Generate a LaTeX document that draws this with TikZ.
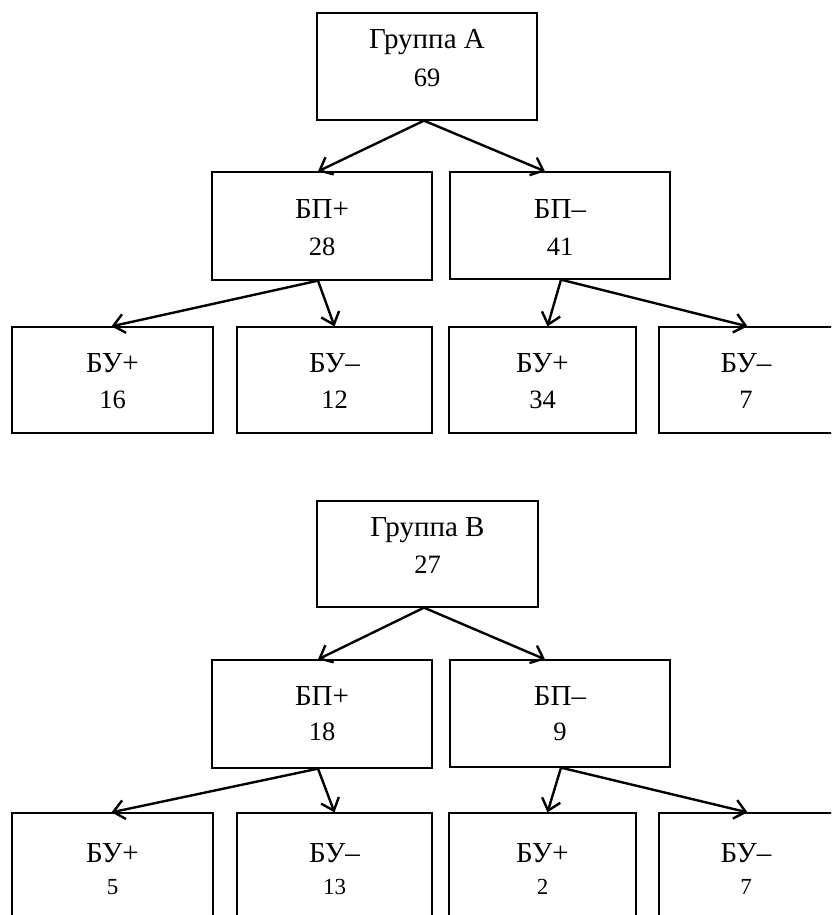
\documentclass[tikz,border=0pt]{standalone}
\usepackage{fontspec}
\setmainfont{Liberation Serif}
\usetikzlibrary{arrows.meta}
\begin{document}
\begin{tikzpicture}[x=1pt,y=-1pt,
  boxnode/.style={draw=black,line width=1.3pt,rectangle,inner sep=0pt},
  txt/.style={anchor=base,inner sep=0pt,font=\fontsize{29}{34}\selectfont},
  numtxt/.style={anchor=base,inner sep=0pt,font=\fontsize{26.5}{31}\selectfont},
  smalltxt/.style={anchor=base,inner sep=0pt,font=\fontsize{23}{27}\selectfont},
  arr/.style={line width=2.4pt,-{Straight Barb[length=11pt,width=19pt,line width=2.4pt]}}]
\useasboundingbox (0,0) rectangle (831,915);
\clip (0,0) rectangle (831,915);
% ---------- Group A ----------
\node[boxnode,minimum width=220pt,minimum height=107pt] (A) at (427,66.5) {};
\node[txt] (AT) at (427,49) {Группа А};
\node[numtxt] (AN) at (427,87) {69};
\node[boxnode,minimum width=220pt,minimum height=108pt] (Ap) at (322,226) {};
\node[txt] (ApT) at (322,218) {БП+};
\node[numtxt] (ApN) at (322,255) {28};
\node[boxnode,minimum width=220pt,minimum height=107pt] (Am) at (560,225.5) {};
\node[txt] (AmT) at (560,218) {БП–};
\node[numtxt] (AmN) at (560,255) {41};
\node[boxnode,minimum width=201pt,minimum height=106pt] (A1) at (112.5,380) {};
\node[txt] (A1T) at (112.5,372) {БУ+};
\node[numtxt] (A1N) at (112.5,408) {16};
\node[boxnode,minimum width=195pt,minimum height=106pt] (A2) at (334.5,380) {};
\node[txt] (A2T) at (334.5,372) {БУ–};
\node[numtxt] (A2N) at (334.5,408) {12};
\node[boxnode,minimum width=187pt,minimum height=106pt] (A3) at (542.5,380) {};
\node[txt] (A3T) at (542.5,372) {БУ+};
\node[numtxt] (A3N) at (542.5,408) {34};
\node[boxnode,minimum width=201pt,minimum height=106pt] (A4) at (759.5,380) {};
\node[txt] (A4T) at (746,372) {БУ–};
\node[numtxt] (A4N) at (746,408) {7};
\draw[arr] ([xshift=-3pt]A.south) -- ([xshift=-4pt]Ap.north);
\draw[arr] ([xshift=-3pt]A.south) -- ([xshift=-15pt]Am.north);
\draw[arr] ([xshift=-4pt]Ap.south) -- ([xshift=-1pt]A1.north);
\draw[arr] ([xshift=-4pt]Ap.south) -- (A2.north);
\draw[arr] ([xshift=1pt]Am.south) -- ([xshift=5pt]A3.north);
\draw[arr] ([xshift=1pt]Am.south) -- ([xshift=-12pt]A4.north);
% ---------- Group B ----------
\node[boxnode,minimum width=221pt,minimum height=106pt] (B) at (427.5,554) {};
\node[txt] (BT) at (427.5,536) {Группа В};
\node[numtxt] (BN) at (427.5,573) {27};
\node[boxnode,minimum width=220pt,minimum height=108pt] (Bp) at (322,714) {};
\node[txt] (BpT) at (322,705) {БП+};
\node[numtxt] (BpN) at (322,740) {18};
\node[boxnode,minimum width=220pt,minimum height=107pt] (Bm) at (560,713.5) {};
\node[txt] (BmT) at (560,705) {БП–};
\node[numtxt] (BmN) at (560,740) {9};
\node[boxnode,minimum width=201pt,minimum height=106pt] (B1) at (112.5,866) {};
\node[txt] (B1T) at (112.5,862) {БУ+};
\node[smalltxt] (B1N) at (112.5,894) {5};
\node[boxnode,minimum width=195pt,minimum height=106pt] (B2) at (334.5,866) {};
\node[txt] (B2T) at (334.5,862) {БУ–};
\node[smalltxt] (B2N) at (334.5,894) {13};
\node[boxnode,minimum width=187pt,minimum height=106pt] (B3) at (542.5,866) {};
\node[txt] (B3T) at (542.5,862) {БУ+};
\node[smalltxt] (B3N) at (542.5,894) {2};
\node[boxnode,minimum width=201pt,minimum height=106pt] (B4) at (759.5,866) {};
\node[txt] (B4T) at (746,862) {БУ–};
\node[smalltxt] (B4N) at (746,894) {7};
\draw[arr] ([xshift=-3.5pt]B.south) -- ([xshift=-4pt]Bp.north);
\draw[arr] ([xshift=-3.5pt]B.south) -- ([xshift=-15pt]Bm.north);
\draw[arr] ([xshift=-4pt]Bp.south) -- ([xshift=-1pt]B1.north);
\draw[arr] ([xshift=-4pt]Bp.south) -- (B2.north);
\draw[arr] ([xshift=1pt]Bm.south) -- ([xshift=5pt]B3.north);
\draw[arr] ([xshift=1pt]Bm.south) -- ([xshift=-12pt]B4.north);
\end{tikzpicture}
\end{document}
